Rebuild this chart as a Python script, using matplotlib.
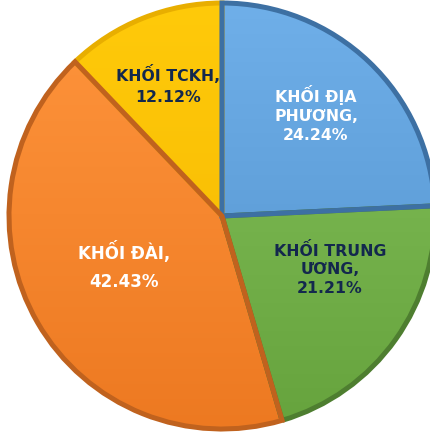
import numpy as np
import matplotlib
matplotlib.use("Agg")
import matplotlib.pyplot as plt
from matplotlib.colors import to_rgb

categories = ["KHỐI ĐỊA\nPHƯƠNG,", "KHỐI TRUNG\nƯƠNG,", "KHỐI ĐÀI,", "KHỐI TCKH,"]
values = [24.24, 21.21, 42.43, 12.12]
pct_labels = ["24.24%", "21.21%", "42.43%", "12.12%"]

colors = ["#5B9BD5", "#70AD47", "#F7832B", "#FFC000"]
edge_colors = ["#3D70A3", "#4E7E30", "#C0621E", "#E8AE00"]
text_colors = ["#FFFFFF", "#13284D", "#FFFFFF", "#13284D"]
font_sizes = [11.3, 11.3, 12.0, 11.3]
line_spacings = [1.3, 1.3, 1.65, 1.55]
edge_z = [2.3, 2.0, 2.3, 2.0]
lighten = [0.08, 0.08, 0.07, 0.04]

W, H = 430, 434
fig = plt.figure(figsize=(W / 100, H / 100), dpi=100)
ax = fig.add_axes([0, 0, 1, 1])

cx, cy, R = 222, 434 - 216, 213
wedges, _ = ax.pie(values, startangle=90, counterclock=False, colors=colors,
                   center=(cx, cy), radius=R, frame=True,
                   wedgeprops=dict(linewidth=3.6, joinstyle="miter"))
ax.set_xlim(0, W)
ax.set_ylim(0, H)
ax.set_aspect("equal")
ax.axis("off")

# gradient shading inside each wedge
yy, xx = np.mgrid[0:H, 0:W]
for w, c, ec, z, lg in zip(wedges, colors, edge_colors, edge_z, lighten):
    base = np.array(to_rgb(c))
    t = (yy / H)[..., None]  # 0 bottom -> 1 top
    light = np.clip(base + lg, 0, 1)
    dark = np.clip(base - 0.04, 0, 1)
    img = dark * (1 - t) + light * t
    im = ax.imshow(img, extent=(0, W, 0, H), origin="lower", zorder=1.5)
    im.set_clip_path(w)
    w.set_facecolor("none")
    w.set_edgecolor(ec)
    w.set_zorder(z)

# label positions (pixel coords from top-left)
label_pos = [(316, 114), (330, 269), (124, 266), (168, 85)]
for cat, pct, (px, py), tc, fs, ls in zip(categories, pct_labels, label_pos,
                                          text_colors, font_sizes, line_spacings):
    ax.text(px, H - py, f"{cat}\n{pct}", ha="center", va="center",
            fontsize=fs, fontweight="bold", color=tc,
            family=["DejaVu Sans"], linespacing=ls, zorder=3)

fig.savefig("out.png", dpi=100)
